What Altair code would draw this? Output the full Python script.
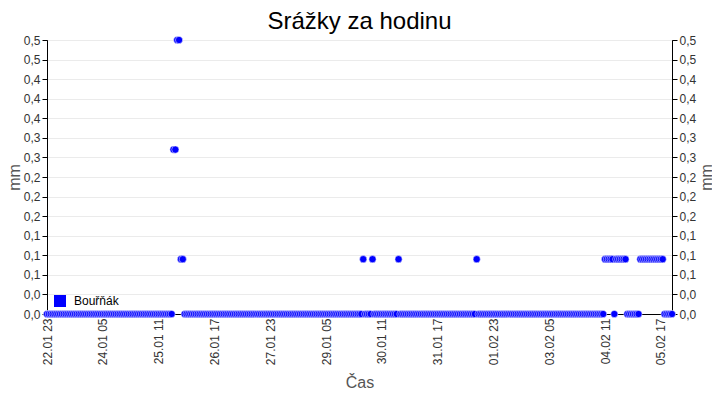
import altair as alt
import pandas as pd

# ---- data (hourly precipitation, mm) ----
start_time = "2024-01-22 23:00"
series_name = "Bouřňák"

# one row per 24 hours, first value = 22.01 23:00
rain_rows = [
    [0, 0, 0, 0, 0, 0, 0, 0, 0, 0, 0, 0, 0, 0, 0, 0, 0, 0, 0, 0, 0, 0, 0, 0],
    [0, 0, 0, 0, 0, 0, 0, 0, 0, 0, 0, 0, 0, 0, 0, 0, 0, 0, 0, 0, 0, 0, 0, 0],
    [0, 0, 0, 0, 0, 0, 0, 0, 0, 0, 0, 0, 0, 0, 0, 0, 0, 0, 0, 0, 0.3, 0.3, 0.5, 0.5],
    [0.1, 0.1, 0, 0, 0, 0, 0, 0, 0, 0, 0, 0, 0, 0, 0, 0, 0, 0, 0, 0, 0, 0, 0, 0],
    [0, 0, 0, 0, 0, 0, 0, 0, 0, 0, 0, 0, 0, 0, 0, 0, 0, 0, 0, 0, 0, 0, 0, 0],
    [0, 0, 0, 0, 0, 0, 0, 0, 0, 0, 0, 0, 0, 0, 0, 0, 0, 0, 0, 0, 0, 0, 0, 0],
    [0, 0, 0, 0, 0, 0, 0, 0, 0, 0, 0, 0, 0, 0, 0, 0, 0, 0, 0, 0, 0, 0, 0, 0],
    [0, 0, 0.1, 0, 0, 0, 0, 0.1, 0, 0, 0, 0, 0, 0, 0, 0, 0, 0, 0, 0, 0, 0.1, 0, 0],
    [0, 0, 0, 0, 0, 0, 0, 0, 0, 0, 0, 0, 0, 0, 0, 0, 0, 0, 0, 0, 0, 0, 0, 0],
    [0, 0, 0, 0, 0, 0, 0, 0, 0, 0, 0, 0, 0, 0, 0, 0.1, 0, 0, 0, 0, 0, 0, 0, 0],
    [0, 0, 0, 0, 0, 0, 0, 0, 0, 0, 0, 0, 0, 0, 0, 0, 0, 0, 0, 0, 0, 0, 0, 0],
    [0, 0, 0, 0, 0, 0, 0, 0, 0, 0, 0, 0, 0, 0, 0, 0, 0, 0, 0, 0, 0, 0, 0, 0],
    [0, 0, 0, 0, 0, 0, 0, 0, 0, 0, 0, 0, 0.1, 0.1, 0.1, 0.1, 0.1, 0, 0.1, 0.1, 0.1, 0.1, 0.1, 0.1],
    [0, 0, 0, 0, 0, 0, 0, 0.1, 0.1, 0.1, 0.1, 0.1, 0.1, 0.1, 0.1, 0.1, 0.1, 0.1, 0.1, 0.1, 0, 0, 0, 0],
    [0],
]

y_tick_labels = ["0,0", "0,0", "0,1", "0,1", "0,1", "0,2", "0,2", "0,2",
                 "0,3", "0,3", "0,4", "0,4", "0,4", "0,5", "0,5"]
y_max = 0.5

x_tick_times = [(2024, 1, 22, 23), (2024, 1, 24, 5), (2024, 1, 25, 11), (2024, 1, 26, 17),
                (2024, 1, 27, 23), (2024, 1, 29, 5), (2024, 1, 30, 11), (2024, 1, 31, 17),
                (2024, 2, 1, 23), (2024, 2, 3, 5), (2024, 2, 4, 11), (2024, 2, 5, 17)]

# ---- build table ----
values = [v for row in rain_rows for v in row]
times = pd.date_range(start_time, periods=len(values), freq="h")
df = pd.DataFrame({
    "t": times.strftime("%Y-%m-%dT%H:%M:%S"),
    "v": values,
    "s": series_name,
})

n_steps = len(y_tick_labels) - 1
y_ticks = [y_max * i / n_steps for i in range(len(y_tick_labels))]
label_expr = "[" + ",".join("'%s'" % l for l in y_tick_labels) + "][round(datum.value*%d)]" % int(round(n_steps / y_max))

x_vals = [alt.DateTime(year=a, month=b, date=c, hours=d) for a, b, c, d in x_tick_times]
x_domain = [alt.DateTime(year=2024, month=1, date=22, hours=23),
            alt.DateTime(year=2024, month=2, date=5, hours=23)]

x_enc = alt.X("t:T", title="Čas",
              scale=alt.Scale(domain=x_domain, nice=False),
              axis=alt.Axis(values=x_vals, format="%d.%m %H", labelAngle=270,
                            grid=False, ticks=False, labelPadding=4, titlePadding=10))

y_scale = alt.Scale(domain=[0, y_max], nice=False, zero=True)

left = alt.Chart(df).mark_point(filled=True, size=52, stroke="white", strokeWidth=0.5, opacity=1).encode(
    x=x_enc,
    y=alt.Y("v:Q", title="mm", scale=y_scale,
            axis=alt.Axis(orient="left", values=y_ticks, labelExpr=label_expr,
                          grid=True, tickSize=5, titlePadding=1)),
    color=alt.Color("s:N", scale=alt.Scale(range=["#0000ff"]),
                    legend=alt.Legend(title=None, orient="bottom-left", offset=7, padding=0,
                                      symbolType="square", symbolSize=144, symbolStrokeWidth=0,
                                      labelFontSize=12, labelColor="#000", labelOffset=8,
                                      labelFont="Liberation Sans")),
)

right = alt.Chart(df).mark_point(opacity=0).encode(
    x=x_enc,
    y=alt.Y("v:Q", title="mm", scale=y_scale,
            axis=alt.Axis(orient="right", values=y_ticks, labelExpr=label_expr,
                          grid=False, tickSize=5, titleAngle=270, titlePadding=19)),
)

chart = alt.layer(right, left).resolve_scale(y="independent").properties(
    width=625, height=274,
    title=alt.Title("Srážky za hodinu", fontSize=24, fontWeight="normal",
                    font="Liberation Sans", color="#000", anchor="middle", offset=0),
    autosize=alt.AutoSizeParams(type="none"),
    padding={"left": 39, "top": 32, "right": 40, "bottom": 82},
).configure_view(
    stroke="#000", strokeWidth=1
).configure_axis(
    labelFont="Liberation Sans", labelFontSize=12, labelColor="#333",
    titleFont="Liberation Sans", titleFontSize=16, titleFontWeight="normal", titleColor="#555",
    domainColor="#000", tickColor="#000", gridColor="#ebebeb",
)

chart.save("out.html", embed_options={"renderer": "svg", "actions": False})
